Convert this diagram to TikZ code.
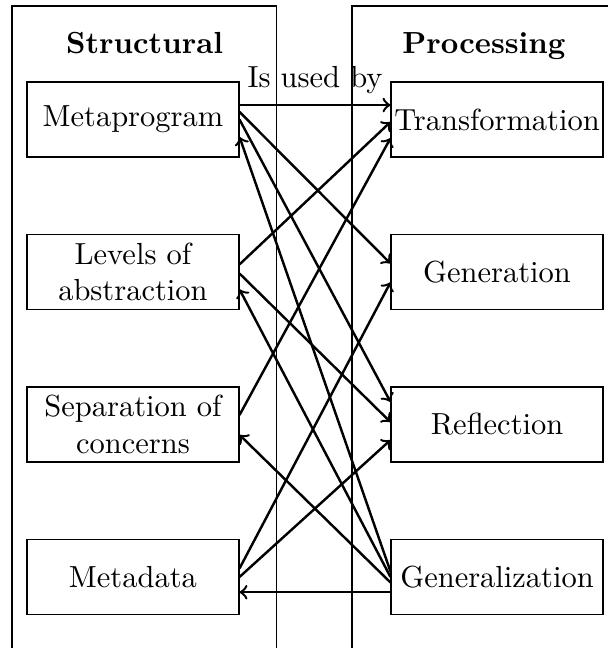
\documentclass[tikz,border=0pt]{standalone}
\usetikzlibrary{positioning}
\begin{document}
\begin{tikzpicture}
  % Define item box, column title and arrow style
  \tikzstyle{myitem} = [draw, rectangle, minimum width=69.5pt,
  minimum height=24.6pt, inner xsep=0.5pt, inner ysep=2pt, align=center]
  \tikzstyle{mytitle} = [font=\bfseries, anchor=base]
  \tikzstyle{myarrow} = [->, thick]

  \useasboundingbox (0,0) rectangle (199.3pt,-212.5pt);

  % Columns
  \draw (3.93pt,-212.5pt) |- (90.8pt,-1.97pt) -- (90.8pt,-212.5pt);
  \draw (115.4pt,-212.5pt) |- (199.3pt,-1.97pt);
  \node[mytitle] (structural) at (47.4pt,-17.7pt) {Structural};
  \node[mytitle] (processing) at (158.7pt,-17.7pt) {Processing};

  % Left column
  \node[myitem] (meta) at (43.6pt,-39.2pt) {Metaprogram};
  \node[myitem, below=25pt of meta] (levels) {Levels of\\abstraction};
  \node[myitem, below=25pt of levels] (separation) {Separation of\\concerns};
  \node[myitem, below=25pt of separation] (metadata) {Metadata};

  % Right column
  \node[myitem, right=49.5pt of meta] (trans) {Transformation};
  \node[myitem, below=25pt of trans] (generation) {Generation};
  \node[myitem, below=25pt of generation] (reflection) {Reflection};
  \node[myitem, below=25pt of reflection] (generalization) {Generalization};

  % Relations
  \draw[myarrow] ([yshift=4.75pt]meta.east) -- ([yshift=4.75pt]trans.west)
    node[midway, above] {Is used by};
  \draw[myarrow] ([yshift=2.5pt]meta.east) -- ([yshift=2.8pt]generation.west);
  \draw[myarrow] (meta.east) -- ([yshift=7.4pt]reflection.west);
  \draw[myarrow] ([yshift=2.5pt]levels.east) -- ([yshift=-0.8pt]trans.west);
  \draw[myarrow] ([yshift=-0.5pt]levels.east) -- ([yshift=0.8pt]reflection.west);
  \draw[myarrow] ([yshift=3.1pt]separation.east) -- ([yshift=-6.1pt]trans.west);
  \draw[myarrow] ([yshift=2.8pt]metadata.east) -- ([yshift=-3.4pt]generation.west);
  \draw[myarrow] (metadata.east) -- ([yshift=-5.1pt]reflection.west);
  \draw[myarrow] ([yshift=1.8pt]generalization.west) -- ([yshift=-5.7pt]meta.east);
  \draw[myarrow] (generalization.west) -- ([yshift=-5.7pt]levels.east);
  \draw[myarrow] ([yshift=-1.8pt]generalization.west) -- ([yshift=-3.4pt]separation.east);
  \draw[myarrow] ([yshift=-5pt]generalization.west) -- ([yshift=-5pt]metadata.east);
\end{tikzpicture}
\end{document}
